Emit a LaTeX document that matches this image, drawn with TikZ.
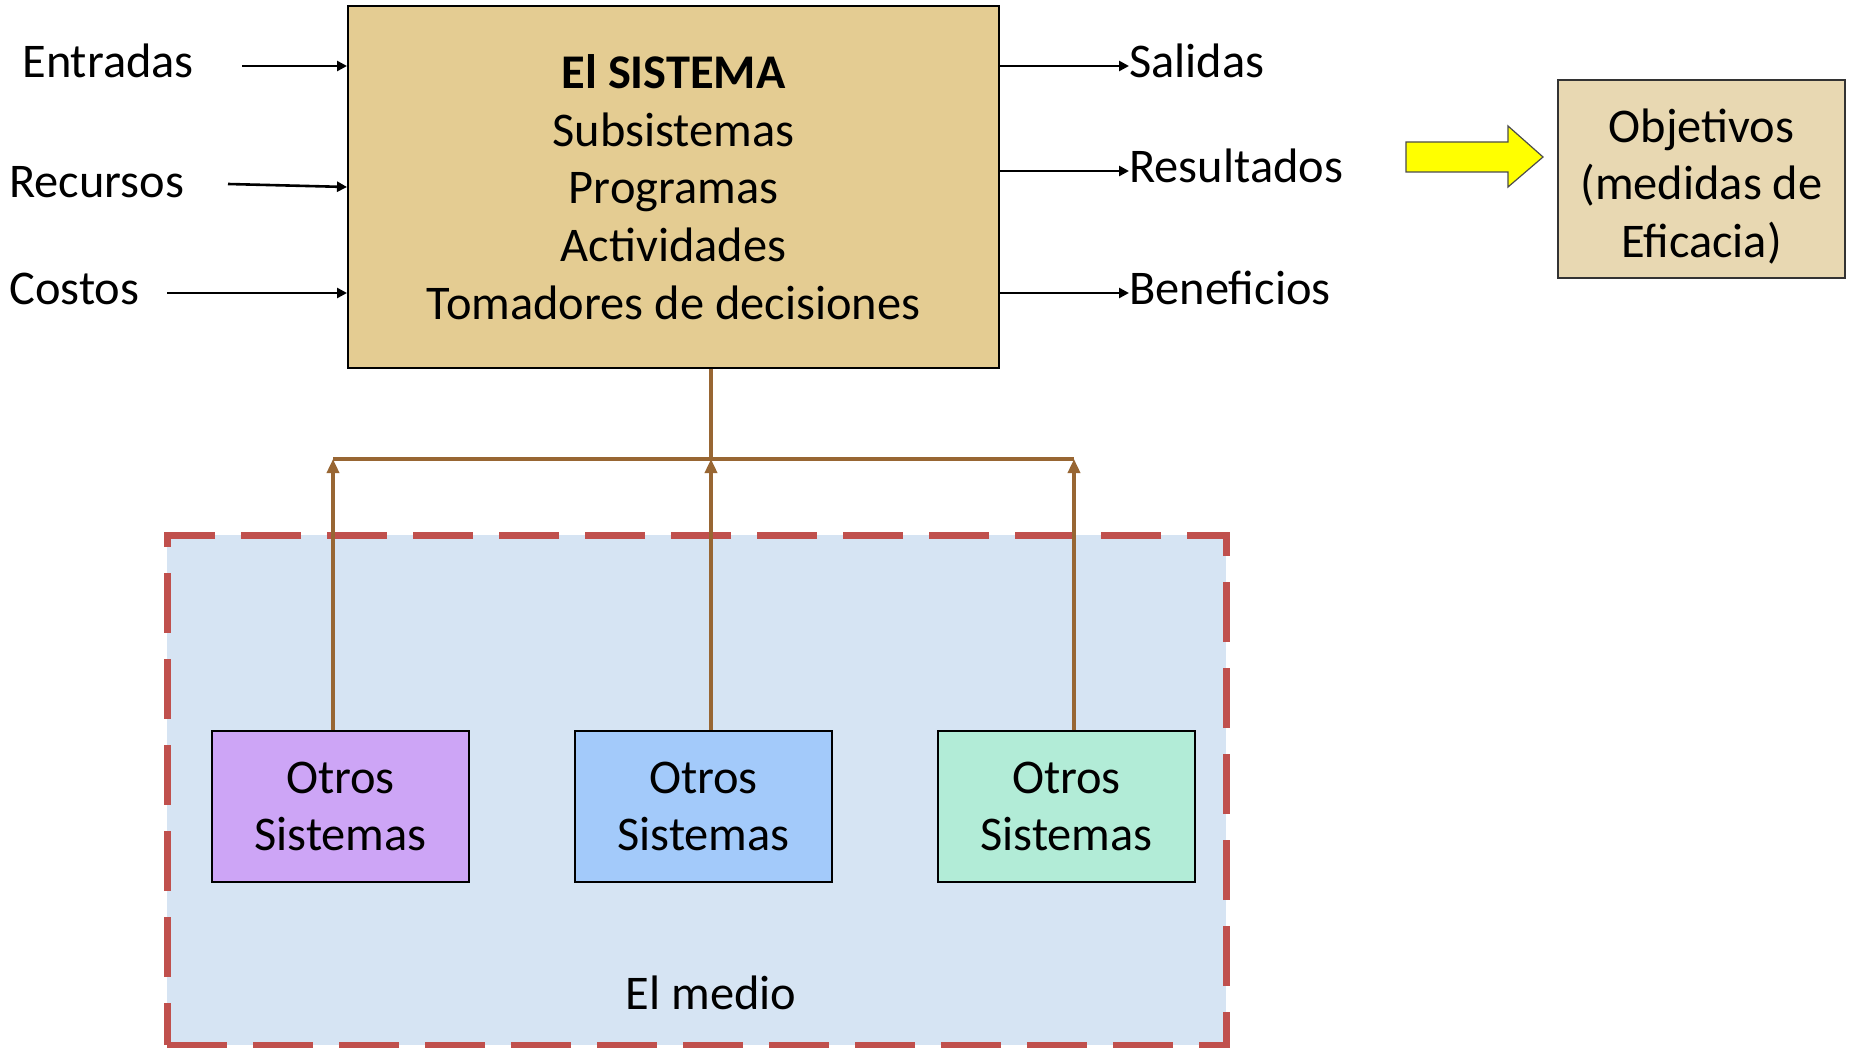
\documentclass[tikz,border=0pt]{standalone}
\usepackage{fontspec}
\setmainfont{Carlito}
\usetikzlibrary{arrows.meta,calc}
\definecolor{papyrus}{RGB}{228,204,146}
\definecolor{parch}{RGB}{232,216,178}
\definecolor{mediobg}{RGB}{214,228,243}
\definecolor{dashred}{RGB}{192,80,77}
\definecolor{brownc}{RGB}{152,102,51}
\definecolor{purp}{RGB}{205,165,246}
\definecolor{bluebox}{RGB}{163,202,250}
\definecolor{greenbox}{RGB}{178,236,215}
\definecolor{yel}{RGB}{255,255,0}
\tikzset{
  txt/.style={font=\fontsize{24.2}{28.8}\selectfont, inner sep=0pt},
  lbl/.style={txt, text height=12pt, text depth=0pt, anchor=west},
  sysbox/.style={draw=black, line width=1pt, inner sep=0pt, align=center, txt},
  blk/.style={draw=black, line width=1.3pt, -{Triangle[length=5pt,width=5pt]}},
  brn/.style={draw=brownc, line width=1.7pt},
  brnarrow/.style={brn, -{Triangle[length=7pt,width=6pt]}},
}
\begin{document}
\begin{tikzpicture}[x=0.5pt,y=-0.5pt]
\useasboundingbox (0,0) rectangle (1854,1048);
\fill[white] (0,0) rectangle (1854,1048);

% environment
\node[draw=dashred, fill=mediobg, line width=3.5pt, dash pattern=on 30pt off 13pt,
      minimum width=529.5pt, minimum height=255pt, inner sep=0pt] (medio) at (696.5,790) {};
\node[txt, anchor=base] (medlbl) at (711,1009) {El medio};

% main system
\node[sysbox, fill=papyrus, minimum width=325.5pt, minimum height=181pt] (sys) at (673.5,187)
  {\textbf{El SISTEMA}\\Subsistemas\\Programas\\Actividades\\Tomadores de decisiones};

% inputs
\node[lbl] (ent) at (22,66) {Entradas};
\node[lbl] (rec) at (9,186) {Recursos};
\node[lbl] (cos) at (9,293) {Costos};
\coordinate (entS) at (242,66);
\coordinate (recS) at (228,184);
\coordinate (cosS) at (167,293);
\draw[blk] (entS) -- (entS -| sys.west);
\draw[blk] (recS) -- (sys.west);
\draw[blk] (cosS) -- (cosS -| sys.west);

% outputs
\node[lbl] (sal) at (1129,66) {Salidas};
\node[lbl] (res) at (1129,171) {Resultados};
\node[lbl] (ben) at (1129,293) {Beneficios};
\draw[blk] (sys.east |- sal.west) -- (sal.west);
\draw[blk] (sys.east |- res.west) -- (res.west);
\draw[blk] (sys.east |- ben.west) -- (ben.west);

% objectives
\draw[fill=yel, draw=black!70, line width=0.6pt]
  (1406,142) -- (1508,142) -- (1508,126) -- (1543,157) -- (1508,187) -- (1508,172) -- (1406,172) -- cycle;
\node[sysbox, draw=black!80, line width=0.8pt, fill=parch, minimum width=143.5pt, minimum height=99pt] (obj) at (1701.5,179)
  {\rule{0pt}{24pt}Objetivos\\(medidas de\\Eficacia)};

% other systems
\node[sysbox, fill=purp, minimum width=128.5pt, minimum height=75.5pt] (o1) at (340.5,806.5) {Otros\\Sistemas};
\node[sysbox, fill=bluebox, minimum width=128.5pt, minimum height=75.5pt] (o2) at (703.5,806.5) {Otros\\Sistemas};
\node[sysbox, fill=greenbox, minimum width=128.5pt, minimum height=75.5pt] (o3) at (1066.5,806.5) {Otros\\Sistemas};

% brown connectors
\coordinate (hub) at (711,459);
\coordinate (hl) at (333,459);
\coordinate (hr) at (1074,459);
\draw[brn] (sys.south -| hub) -- (hub);
\draw[brn] (hl) -- (hr);
\draw[brnarrow] (o1.north -| hl) -- (hl);
\draw[brnarrow] (o2.north -| hub) -- (hub);
\draw[brnarrow] (o3.north -| hr) -- (hr);
\end{tikzpicture}
\end{document}
